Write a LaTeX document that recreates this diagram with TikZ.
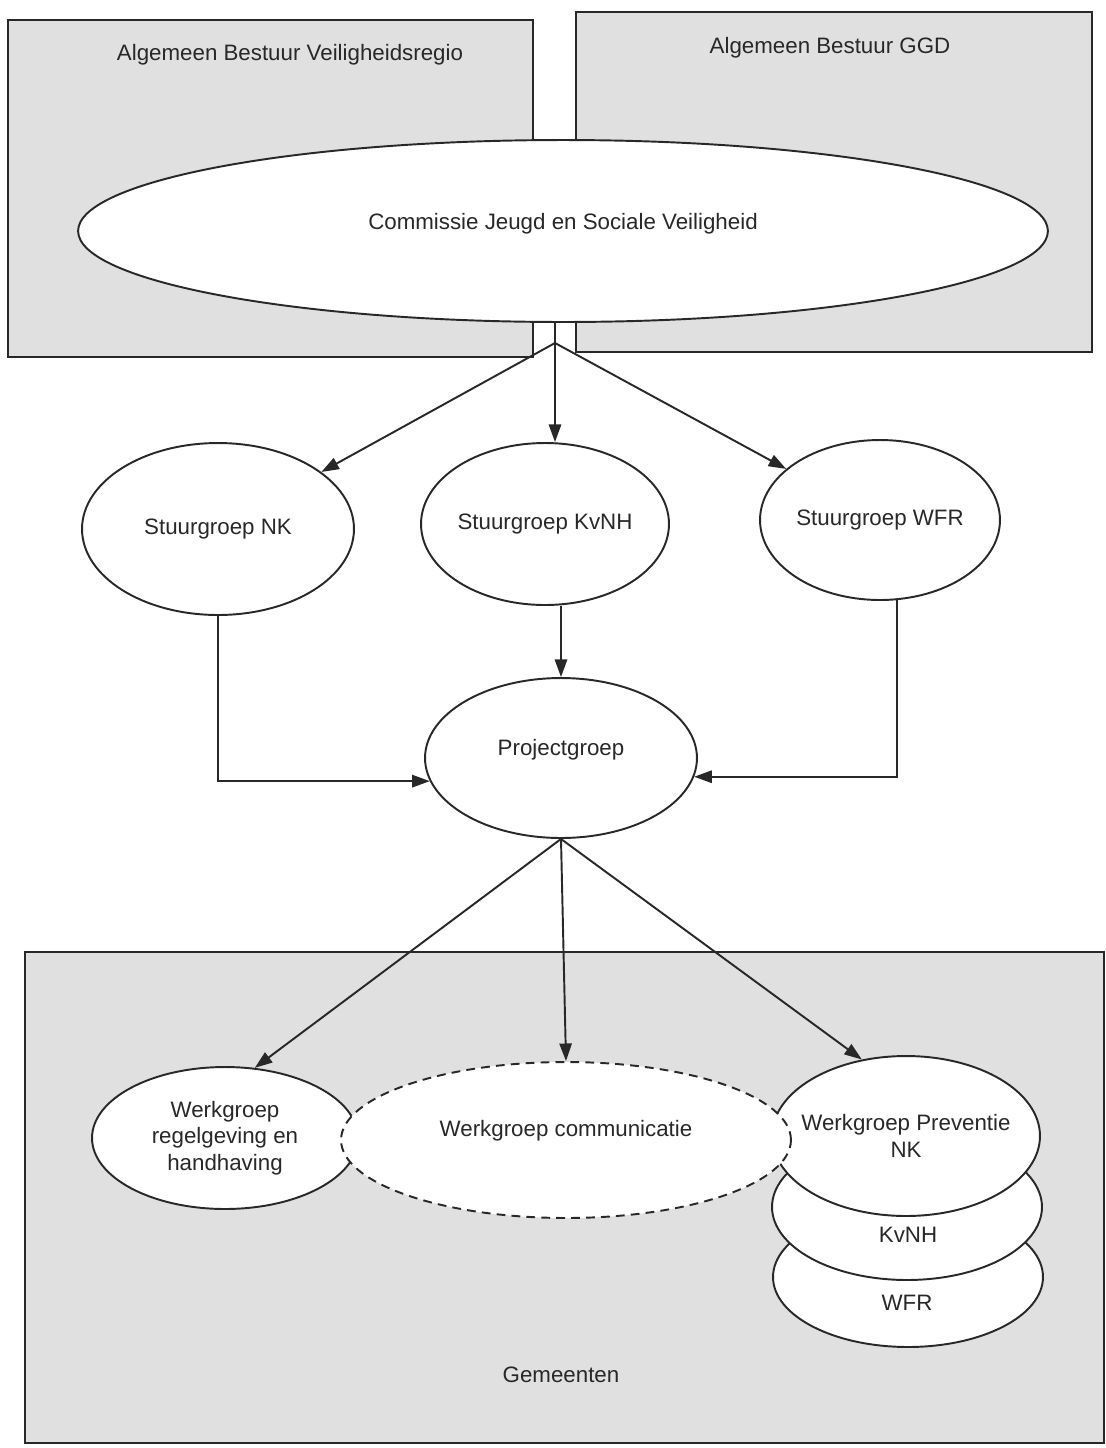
\documentclass[tikz,border=0pt]{standalone}
\usepackage{fontspec}
\setmainfont{Liberation Sans}
\usepackage{xcolor}
\usetikzlibrary{shapes.geometric,arrows.meta}
\definecolor{panelgray}{RGB}{224,224,224}
\definecolor{inkgray}{RGB}{40,40,40}

\begin{document}
\begin{tikzpicture}[x=0.02cm,y=-0.02cm,
  font=\fontsize{12.7}{15}\selectfont, text=inkgray,
  panel/.style={fill=panelgray, draw=inkgray, line width=1.1pt},
  orgel/.style={ellipse, draw=inkgray, fill=white, line width=1.1pt, inner xsep=-12pt, inner ysep=0pt, align=center},
  arr/.style={draw=inkgray, line width=1.1pt, -{Triangle[length=10pt,width=7pt]}}]
\useasboundingbox (0,0) rectangle (1106,1448);
\draw[panel] (8,20) rectangle (533,357);
\draw[panel] (576,12) rectangle (1092,352);
\draw[panel] (25,952) rectangle (1104,1443);
\node (abvr) at (290,55) {Algemeen Bestuur Veiligheidsregio};
\node (abggd) at (830,48) {Algemeen Bestuur GGD};
\node[orgel, text depth=11pt, minimum width=19.4cm, minimum height=3.64cm] (cjsv) at (563,231) {Commissie Jeugd en Sociale Veiligheid};
\coordinate (split) at (555,343);
\node[orgel, minimum width=5.44cm, minimum height=3.44cm] (sgnk) at (218,529) {Stuurgroep NK};
\node[orgel, minimum width=4.96cm, minimum height=3.24cm] (sgkvnh) at (545,524) {Stuurgroep KvNH};
\node[orgel, minimum width=4.8cm, minimum height=3.2cm] (sgwfr) at (880,520) {Stuurgroep WFR};
\node[orgel, text depth=12pt, minimum width=5.44cm, minimum height=3.2cm] (pg) at (561,758) {Projectgroep};
\node[orgel, minimum width=5.4cm, minimum height=2.8cm] (wgwfr) at (908,1277) {};
\node[orgel, minimum width=5.4cm, minimum height=2.92cm] (wgkvnh) at (907,1207) {};
\node[orgel, minimum width=5.36cm, minimum height=3.2cm] (wgprev) at (906,1136) {Werkgroep Preventie\\NK};
\node[orgel, minimum width=5.32cm, minimum height=2.84cm] (wgregel) at (225,1138) {Werkgroep\\regelgeving en\\handhaving};
\node[orgel, text depth=13pt, dash pattern=on 5pt off 3.5pt, minimum width=9cm, minimum height=3.12cm] (wgcomm) at (566,1140) {Werkgroep communicatie};
\node (wgkvnhtxt) at (908,1235) {KvNH};
\node (wgwfrtxt) at (907,1303) {WFR};
\node (gem) at (561,1375) {Gemeenten};
\draw[draw=inkgray, line width=1.1pt] (cjsv.south -| split) -- (split);
\draw[arr] (split) -- (sgnk);
\draw[arr] (split) -- (split |- sgkvnh.north);
\draw[arr] (split) -- (sgwfr);
\draw[arr] (sgnk.south) |- (pg.190);
\draw[arr] (pg.north |- sgkvnh.south) -- (pg.north);
\draw[arr] (sgwfr.-78) |- (pg.352);
\draw[arr] (pg.south) -- (wgregel.67);
\draw[arr] (pg.south) -- (wgcomm.north);
\draw[arr] (pg.south) -- (wgprev.120);
\end{tikzpicture}
\end{document}
